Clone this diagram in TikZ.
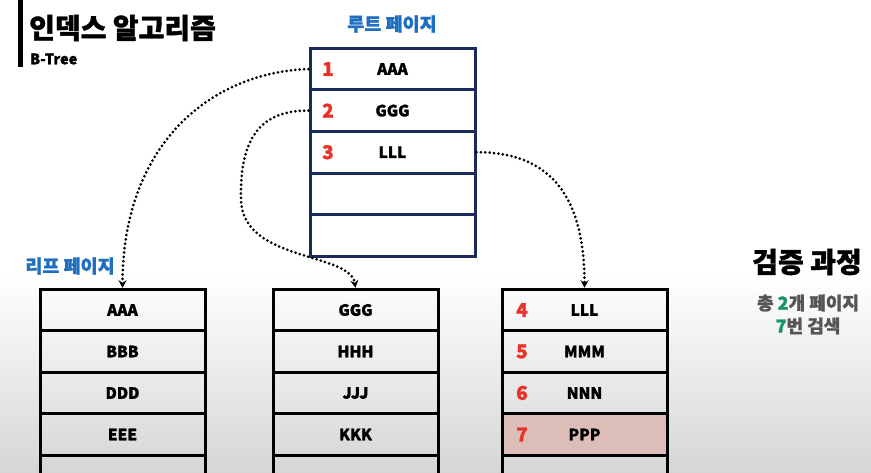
\documentclass[tikz,border=0pt]{standalone}
\usepackage{fontspec}
\setmainfont{Noto Sans CJK KR}[BoldFeatures={FakeBold=1.3}]
\usetikzlibrary{arrows.meta}
\definecolor{navy}{HTML}{1B2A5C}
\definecolor{numred}{HTML}{E8322A}
\definecolor{lblblue}{HTML}{1F6FC0}
\definecolor{hitfill}{HTML}{DDBDB8}
\definecolor{grn}{HTML}{17956A}
\definecolor{sub}{HTML}{555555}
\tikzset{
  rootrow/.style={draw=navy,line width=3pt,minimum width=165pt,minimum height=41.6pt,inner sep=0pt,font=\bfseries\fontsize{15.5}{15.5}\selectfont},
  leafrow/.style={draw=black,line width=3pt,minimum width=165pt,minimum height=41.5pt,inner sep=0pt,font=\bfseries\fontsize{15.5}{15.5}\selectfont},
  num/.style={text=numred,font=\bfseries\fontsize{19}{19}\selectfont,inner sep=0pt},
  pagelbl/.style={text=lblblue,font=\bfseries\fontsize{18.5}{18.5}\selectfont,inner sep=0pt},
  link/.style={line width=3pt,dash pattern=on 0pt off 4.4pt,line cap=round,-{Stealth[length=7.5pt,width=8pt,line cap=butt]}},
}
\begin{document}
\begin{tikzpicture}[x=1pt,y=-1pt]
\useasboundingbox (0,0) rectangle (871,472);
\clip (0,0) rectangle (871,472);
\fill[white] (0,0) rectangle (871,275);
\shade[top color=white,bottom color=black!16] (0,274) rectangle (871,472);
% title
\fill[black] (18,0) rectangle (23,67);
\node[anchor=west,inner sep=0pt,font=\bfseries\fontsize{28}{28}\selectfont] (title) at (29,28) {인덱스 알고리즘};
\node[anchor=west,inner sep=0pt,font=\bfseries\fontsize{14.5}{14.5}\selectfont] (btree) at (30,59) {B-Tree};
% root page
\node[pagelbl] (rootlbl) at (392,24) {루트 페이지};
\node[rootrow] (r1) at (392.5,69) {AAA};
\node[rootrow] (r2) at (392.5,110.6) {GGG};
\node[rootrow] (r3) at (392.5,152.2) {LLL};
\node[rootrow] (r4) at (392.5,193.8) {};
\node[rootrow] (r5) at (392.5,235.4) {};
\node[num] (n1) at (328,69) {1};
\node[num] (n2) at (328,110.6) {2};
\node[num] (n3) at (328,152.2) {3};
% leaf label
\node[pagelbl] (leaflbl) at (70,266) {리프 페이지};
% left leaf
\node[leafrow] (a1) at (122.5,310) {AAA};
\node[leafrow] (a2) at (122.5,351.5) {BBB};
\node[leafrow] (a3) at (122.5,393) {DDD};
\node[leafrow] (a4) at (122.5,434.5) {EEE};
\node[leafrow] (a5) at (122.5,476) {};
% middle leaf
\node[leafrow] (b1) at (355.5,310) {GGG};
\node[leafrow] (b2) at (355.5,351.5) {HHH};
\node[leafrow] (b3) at (355.5,393) {JJJ};
\node[leafrow] (b4) at (355.5,434.5) {KKK};
\node[leafrow] (b5) at (355.5,476) {};
% right leaf
\node[leafrow] (c1) at (584.5,310) {LLL};
\node[leafrow] (c2) at (584.5,351.5) {MMM};
\node[leafrow] (c3) at (584.5,393) {NNN};
\node[leafrow,fill=hitfill] (c4) at (584.5,434.5) {PPP};
\node[leafrow] (c5) at (584.5,476) {};
\node[num] (n4) at (522,310) {4};
\node[num] (n5) at (522,351.5) {5};
\node[num] (n6) at (522,393) {6};
\node[num] (n7) at (522,434.5) {7};
% links
\draw[link] (r1.west) .. controls (215,72) and (123,140) .. (a1.north);
\draw[link] (r2.west) .. controls (252,110) and (240,150) .. (241,200) .. controls (243,262) and (350,252) .. (b1.north);
\draw[link] (r3.east) .. controls (545,152) and (584.5,190) .. (c1.north);
% side text
\node[inner sep=0pt,font=\bfseries\fontsize{28}{28}\selectfont] (verify) at (807,262) {검증 과정};
\node[inner sep=0pt,text=sub,font=\bfseries\fontsize{18}{18}\selectfont] (stat1) at (808,303) {총 \textcolor{grn}{2}개 페이지};
\node[inner sep=0pt,text=sub,font=\bfseries\fontsize{18}{18}\selectfont] (stat2) at (808,326) {\textcolor{grn}{7}번 검색};
\end{tikzpicture}
\end{document}
